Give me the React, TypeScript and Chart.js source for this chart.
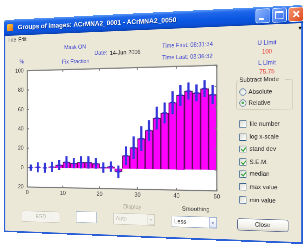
import React, { useEffect, useRef } from "react";
import { Chart, registerables } from "chart.js";

Chart.register(...registerables);

// ---- chart data ----
const imageIndex = [1, 3, 5, 7, 9, 11, 13, 15, 17, 19, 21, 23, 25, 27, 29, 31, 33, 35, 37, 39, 41, 43, 45, 47, 49];
const fixFraction = [0, 0.5, 0, 1, 3, 6, 5, 6, 6, 5, 1, 2, -3, 13, 21, 30, 38, 50, 55, 65, 72, 76, 74, 78, 72];
const standDev = [3, 5, 5, 5, 5, 6, 5, 6, 6, 5, 5, 5, 6, 9, 11, 12, 10, 11, 10, 11, 10, 8, 8, 8, 9];
const xTickStep = 10;
const yTickStep = 20;
const xRange = [0, 50];
const yRange = [-20, 100];

// ---- UI texts ----
const checkLabels = ["file number", "log x-scale", "stand dev", "S.E.M.", "median", "max value", "min value"];
const checkStates = [false, false, true, true, true, false, false];
const checkRows = [105.3, 117.1, 128.0, 139.8, 150.6, 162.4, 174.2];

// ---- geometry (design units; S = render scale before the perspective mapping) ----
const S = 2;
const W = 300;
const H = 212;
const QUAD = { tl: [4, 20], tr: [303, 5], br: [303, 244], bl: [4, 232] };

const px = (n: number) => `${n * S}px`;
const FONT = '"Liberation Sans", Arial, sans-serif';
const BLUE_TXT = "#3b3fd2";
const RED_TXT = "#e8403a";

function matrix3d(): string {
  const [x0, y0] = QUAD.tl, [x1, y1] = QUAD.tr, [x2, y2] = QUAD.br, [x3, y3] = QUAD.bl;
  const dx1 = x1 - x2, dx2 = x3 - x2, dx3 = x0 - x1 + x2 - x3;
  const dy1 = y1 - y2, dy2 = y3 - y2, dy3 = y0 - y1 + y2 - y3;
  const den = dx1 * dy2 - dx2 * dy1;
  const g = (dx3 * dy2 - dx2 * dy3) / den;
  const h = (dx1 * dy3 - dx3 * dy1) / den;
  const a = x1 - x0 + g * x1, b = x3 - x0 + h * x3, c = x0;
  const d = y1 - y0 + g * y1, e = y3 - y0 + h * y3, f = y0;
  const sw = W * S, sh = H * S;
  const m = [a / sw, d / sw, 0, g / sw, b / sh, e / sh, 0, h / sh, 0, 0, 1, 0, c, f, 0, 1];
  return `matrix3d(${m.join(",")})`;
}

type TxtProps = { x: number; y: number; children: React.ReactNode; color?: string; size?: number; align?: "left" | "center" | "right"; weight?: number };
function Txt({ x, y, children, color = "#222", size = 5.6, align = "left", weight = 400 }: TxtProps) {
  const style: React.CSSProperties = {
    position: "absolute",
    left: px(x),
    top: px(y - size * 0.6),
    fontSize: px(size),
    lineHeight: px(size * 1.2),
    fontFamily: FONT,
    color,
    fontWeight: weight,
    whiteSpace: "nowrap",
    transform: align === "center" ? "translateX(-50%)" : align === "right" ? "translateX(-100%)" : undefined,
  };
  return <div style={style}>{children}</div>;
}

function Box({ x, y, w, h, style }: { x: number; y: number; w: number; h: number; style?: React.CSSProperties }) {
  return <div style={{ position: "absolute", left: px(x), top: px(y), width: px(w), height: px(h), boxSizing: "border-box", ...style }} />;
}

function CheckBox({ x, y, checked }: { x: number; y: number; checked: boolean }) {
  const s = 6.4;
  return (
    <div style={{ position: "absolute", left: px(x), top: px(y - s / 2), width: px(s), height: px(s), boxSizing: "border-box", border: `${px(0.6)} solid #2b5a8a`, background: "linear-gradient(135deg,#dcdcd6,#ffffff)" }}>
      {checked && (
        <div style={{ position: "absolute", left: px(1.7), top: px(0.3), width: px(1.8), height: px(3.4), borderRight: `${px(1.1)} solid #2ea02e`, borderBottom: `${px(1.1)} solid #2ea02e`, transform: "rotate(40deg)" }} />
      )}
    </div>
  );
}

function Radio({ x, y, checked }: { x: number; y: number; checked: boolean }) {
  const s = 6.6;
  return (
    <div style={{ position: "absolute", left: px(x - s / 2), top: px(y - s / 2), width: px(s), height: px(s), boxSizing: "border-box", borderRadius: "50%", border: `${px(0.6)} solid #2b5a8a`, background: "linear-gradient(135deg,#dcdcd6,#ffffff)" }}>
      {checked && <div style={{ position: "absolute", left: px(1.6), top: px(1.6), width: px(2.2), height: px(2.2), borderRadius: "50%", background: "#3cb03c" }} />}
    </div>
  );
}

function DropArrow({ x, y, w, h, disabled }: { x: number; y: number; w: number; h: number; disabled?: boolean }) {
  return (
    <div style={{ position: "absolute", left: px(x), top: px(y), width: px(w), height: px(h), boxSizing: "border-box", background: disabled ? "#f2f1ea" : "linear-gradient(#ffffff,#dfe6f6)", border: `${px(0.4)} solid ${disabled ? "#d6d3c6" : "#b4c4e4"}` }}>
      <div style={{ position: "absolute", left: "50%", top: "50%", width: 0, height: 0, transform: "translate(-50%,-30%)", borderLeft: `${px(1.4)} solid transparent`, borderRight: `${px(1.4)} solid transparent`, borderTop: `${px(1.6)} solid ${disabled ? "#c4c1b4" : "#4d6185"}` }} />
    </div>
  );
}

const axesBox = {
  id: "axesBox",
  beforeDraw(chart: any) {
    const { ctx, chartArea: a } = chart;
    ctx.save();
    ctx.fillStyle = "#ffffff";
    ctx.fillRect(a.left, a.top, a.right - a.left, a.bottom - a.top);
    ctx.restore();
  },
  afterDatasetsDraw(chart: any) {
    const { ctx, chartArea: a, scales } = chart;
    ctx.save();
    ctx.strokeStyle = "#7d7d7d";
    ctx.lineWidth = 1.1 * S;
    ctx.strokeRect(a.left, a.top, a.right - a.left, a.bottom - a.top);
    const tl = 2 * S;
    ctx.beginPath();
    for (const t of scales.x.ticks) {
      const p = scales.x.getPixelForValue(t.value);
      ctx.moveTo(p, a.bottom); ctx.lineTo(p, a.bottom - tl);
      ctx.moveTo(p, a.top); ctx.lineTo(p, a.top + tl);
    }
    for (const t of scales.y.ticks) {
      const p = scales.y.getPixelForValue(t.value);
      ctx.moveTo(a.left, p); ctx.lineTo(a.left + tl, p);
      ctx.moveTo(a.right, p); ctx.lineTo(a.right - tl, p);
    }
    ctx.stroke();
    ctx.restore();
  },
};

// canvas placement in design units
const CANVAS = { x: 0, y: 44, w: 226, h: 136 };
const PLOT = { left: 26, right: 222, top: 50, bottom: 166.5 };

function FixChart() {
  const ref = useRef<HTMLCanvasElement | null>(null);
  useEffect(() => {
    if (!ref.current) return;
    const bars = imageIndex.map((x, i) => ({ x, y: fixFraction[i] }));
    const spreads = imageIndex.map((x, i) => ({ x, y: [fixFraction[i] - standDev[i], fixFraction[i] + standDev[i]] }));
    const chart = new Chart(ref.current, {
      type: "bar",
      data: {
        datasets: [
          {
            type: "scatter",
            data: bars,
            pointStyle: "line",
            pointRadius: 2.4 * S,
            borderWidth: 1.1 * S,
            borderColor: "#2d2fd6",
            order: 0,
          } as any,
          {
            type: "bar",
            data: spreads as any,
            backgroundColor: "#3538d8",
            borderWidth: 0,
            barThickness: 1.9 * S,
            grouped: false,
            order: 1,
          } as any,
          {
            type: "bar",
            data: bars,
            backgroundColor: "#ff00ff",
            borderColor: "#5c0a5c",
            borderWidth: 0.9 * S,
            barPercentage: 1,
            categoryPercentage: 1,
            grouped: false,
            order: 2,
          } as any,
        ],
      },
      options: {
        animation: false,
        responsive: false,
        devicePixelRatio: 1,
        events: [],
        layout: {
          padding: {
            top: (PLOT.top - CANVAS.y) * S,
            right: (CANVAS.w - PLOT.right) * S,
            left: 0,
            bottom: 0,
          },
        },
        plugins: { legend: { display: false }, tooltip: { enabled: false } },
        scales: {
          x: {
            type: "linear",
            min: xRange[0],
            max: xRange[1],
            offset: false,
            grid: { display: false, drawTicks: false },
            border: { display: false },
            ticks: { stepSize: xTickStep, color: "#3a3a3a", font: { size: 5.6 * S, family: FONT }, padding: 2.2 * S, maxRotation: 0 },
            afterFit: (s: any) => { s.height = (CANVAS.y + CANVAS.h - PLOT.bottom) * S; },
          },
          y: {
            min: yRange[0],
            max: yRange[1],
            grid: { display: false, drawTicks: false },
            border: { display: false },
            ticks: { stepSize: yTickStep, color: "#3a3a3a", font: { size: 5.6 * S, family: FONT }, padding: 4 * S },
            afterFit: (s: any) => { s.width = (PLOT.left - CANVAS.x) * S; },
          },
        },
      } as any,
      plugins: [axesBox],
    });
    return () => chart.destroy();
  }, []);
  return (
    <canvas
      ref={ref}
      width={CANVAS.w * S}
      height={CANVAS.h * S}
      style={{ position: "absolute", left: px(CANVAS.x), top: px(CANVAS.y), width: px(CANVAS.w), height: px(CANVAS.h) }}
    />
  );
}

export default function App() {
  return (
    <div
      style={{
        position: "fixed",
        left: 0,
        top: 0,
        width: px(W),
        height: px(H),
        transformOrigin: "0 0",
        transform: matrix3d(),
        fontFamily: FONT,
      }}
    >
      {/* window body */}
      <Box x={0} y={0} w={W} h={H} style={{ background: "#ebe8d8" }} />
      <Box x={0} y={14} w={1.6} h={H - 14} style={{ background: "#2a5fd8" }} />
      <Box x={W - 1.6} y={14} w={1.6} h={H - 14} style={{ background: "#2a5fd8" }} />
      <Box x={0} y={H - 1.6} w={W} h={1.6} style={{ background: "#2a5fd8" }} />

      {/* title bar */}
      <Box x={0} y={0} w={W} h={16} style={{ background: "linear-gradient(#5c9af6 0%, #2168ea 18%, #0b58e2 55%, #0a50d6 85%, #0b3fb0 100%)", borderRadius: `${px(3)} ${px(3)} 0 0` }} />
      <Box x={3.5} y={4.5} w={7} h={7} style={{ background: "linear-gradient(135deg,#ffd040,#e86a10)", borderRadius: px(1) }} />
      <Txt x={15.5} y={8.2} color="#ffffff" size={6.7} weight={700}>
        <span style={{ textShadow: `${px(0.5)} ${px(0.5)} 0 #0a2a80` }}>Groups of images: ACrMNA2_0001 - ACrMNA2_0050</span>
      </Txt>
      <Box x={257} y={1.5} w={13.5} h={13} style={{ background: "linear-gradient(135deg,#8fb6ff,#3c78ec)", border: `${px(0.7)} solid #ffffff`, borderRadius: px(2) }} />
      <Box x={260} y={10} w={4.5} h={1.6} style={{ background: "#ffffff" }} />
      <Box x={272} y={1.5} w={13.5} h={13} style={{ background: "linear-gradient(135deg,#7fa8fa,#2a66e6)", border: `${px(0.7)} solid #ffffff`, borderRadius: px(2) }} />
      <Box x={275} y={4.3} w={7.5} h={7.2} style={{ border: `${px(0.8)} solid #ffffff`, borderTopWidth: px(1.6) }} />
      <Box x={287} y={1.5} w={13.5} h={13} style={{ background: "linear-gradient(135deg,#f59470,#dc4a1e)", border: `${px(0.7)} solid #ffffff`, borderRadius: px(2) }} />
      <Box x={290.3} y={7.2} w={7} h={1.6} style={{ background: "#ffffff", transform: "rotate(45deg)" }} />
      <Box x={290.3} y={7.2} w={7} h={1.6} style={{ background: "#ffffff", transform: "rotate(-45deg)" }} />

      {/* menu */}
      <Txt x={5} y={20.2} size={5.4} color="#1a1a1a">File</Txt>
      <Txt x={16} y={20.2} size={5.4} color="#1a1a1a">Edit</Txt>
      <Txt x={296} y={20.5} size={5.5} color="#111">▾</Txt>

      {/* header labels */}
      <Txt x={78} y={30} color={BLUE_TXT} align="center">Mask ON</Txt>
      <Txt x={98.5} y={36.5} color={BLUE_TXT}>Date:</Txt>
      <Txt x={114.5} y={37} color="#2a2a2a">14-Jun-2006</Txt>
      <Txt x={20} y={42.6} color={BLUE_TXT} align="center">%</Txt>
      <Txt x={64} y={44} color={BLUE_TXT}>Fix Fraction</Txt>
      <Txt x={167.5} y={31.7} color={BLUE_TXT}>Time First: 08:31:34</Txt>
      <Txt x={167.5} y={42.8} color={BLUE_TXT}>Time Last: 08:36:32</Txt>
      <Txt x={267.5} y={32.5} color={BLUE_TXT} align="center">U Limit</Txt>
      <Txt x={267.5} y={40.6} color={RED_TXT} align="center">100</Txt>
      <Txt x={267.5} y={50.5} color={BLUE_TXT} align="center">L Limit</Txt>
      <Txt x={267.5} y={58.6} color={RED_TXT} align="center">75.75</Txt>

      {/* chart */}
      <FixChart />

      {/* subtract mode group */}
      <Box x={239} y={65.5} w={52} h={27} style={{ border: `${px(0.6)} solid #cfcbbb`, borderRadius: px(2) }} />
      <Box x={241} y={62.5} w={43} h={6} style={{ background: "#ebe8d8" }} />
      <Txt x={242} y={65.4} color="#222">Subtract Mode</Txt>
      <Radio x={245.4} y={76.2} checked={false} />
      <Txt x={250.5} y={76.2} color="#222">Absolute</Txt>
      <Radio x={245.4} y={86.2} checked={true} />
      <Txt x={250.5} y={86.2} color="#222">Relative</Txt>

      {/* check boxes */}
      {checkLabels.map((label, i) => (
        <React.Fragment key={label}>
          <CheckBox x={242.2} y={checkRows[i]} checked={checkStates[i]} />
          <Txt x={251.5} y={checkRows[i]} color="#222">{label}</Txt>
        </React.Fragment>
      ))}

      {/* bottom controls */}
      <Box x={20} y={190} w={42} h={11} style={{ background: "#f4f3ee", border: `${px(0.6)} solid #cdcabc`, borderRadius: px(1.5) }} />
      <Txt x={41} y={195.5} color="#b8b5a6" align="center">ESD</Txt>
      <Box x={79} y={188.8} w={22} h={11.2} style={{ background: "#ffffff", border: `${px(0.6)} solid #a9b8cc` }} />
      <Txt x={137.5} y={183.5} color="#a6a394" align="center">Display</Txt>
      <Box x={118} y={189.3} w={42.5} h={11} style={{ background: "#f5f4ec", border: `${px(0.6)} solid #cdcabc` }} />
      <Txt x={120.5} y={194.8} color="#c2bfb0">Auto</Txt>
      <DropArrow x={153} y={190} w={7} h={9.6} disabled />
      <Txt x={200.5} y={183.8} color="#333" align="center">Smoothing</Txt>
      <Box x={177} y={190.6} w={44} h={10.6} style={{ background: "#ffffff", border: `${px(0.6)} solid #8fa6c4` }} />
      <Txt x={179.5} y={196} color="#222">Less</Txt>
      <DropArrow x={213.5} y={191.2} w={7} h={9.4} />
      <Box x={240} y={190.8} w={47} h={11} style={{ background: "linear-gradient(#ffffff,#f0efe8 70%,#dcdad0)", border: `${px(0.7)} solid #55668a`, borderRadius: px(2) }} />
      <Txt x={263.5} y={196.4} color="#222" align="center">Close</Txt>
    </div>
  );
}
